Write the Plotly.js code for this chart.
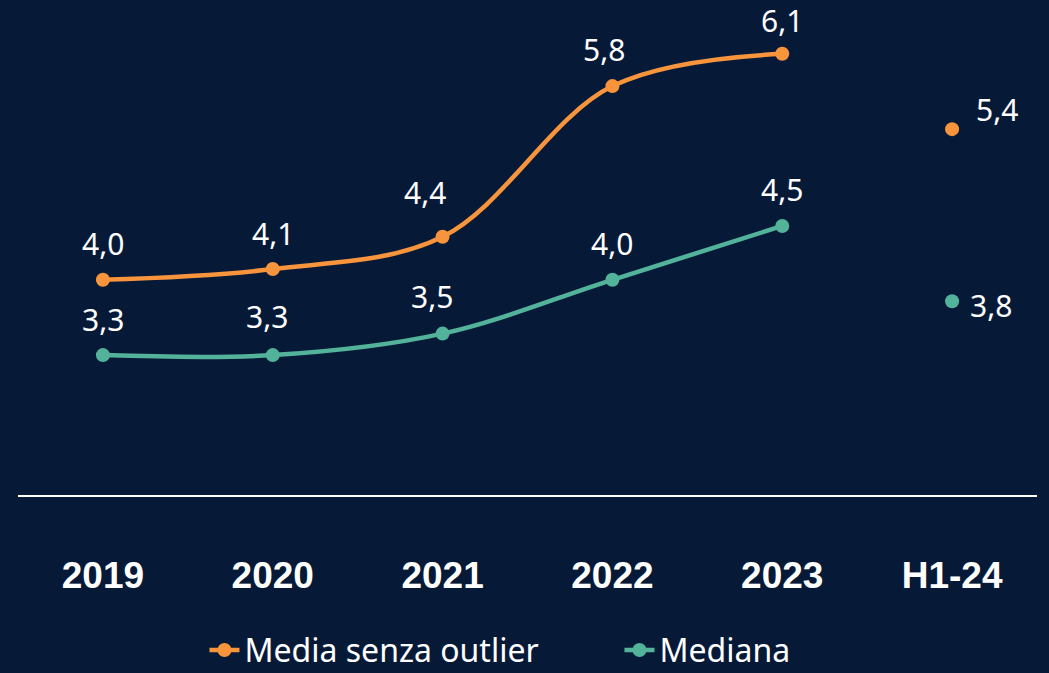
<!DOCTYPE html>
<html>
<head>
<meta charset="utf-8">
<script src="https://cdn.plot.ly/plotly-3.0.1.min.js"></script>
<style>html,body{margin:0;padding:0;background:#061a38;}</style>
</head>
<body>
<div id="chart" style="width:1049px;height:673px;"></div>
<script>
const categories = ["2019", "2020", "2021", "2022", "2023", "H1-24"];
const mediaValues = [4.0, 4.1, 4.4, 5.8, 6.1, 5.4];
const medianaValues = [3.3, 3.3, 3.5, 4.0, 4.5, 3.8];
const seriesNames = ["Media senza outlier", "Mediana"];

const orange = "#f7943c";
const teal = "#52b29a";
const fmt = v => v.toFixed(1).replace(".", ",");

const lineCats = categories.slice(0, 5);
const lastCat = categories.slice(5);

const traces = [
  {x: lineCats, y: mediaValues.slice(0, 5), name: seriesNames[0], mode: "lines+markers",
   line: {color: orange, width: 4.5, shape: "spline", smoothing: 1}, marker: {color: orange, size: 14}},
  {x: lastCat, y: mediaValues.slice(5), name: seriesNames[0], mode: "markers", showlegend: false,
   marker: {color: orange, size: 14}},
  {x: lineCats, y: medianaValues.slice(0, 5), name: seriesNames[1], mode: "lines+markers",
   line: {color: teal, width: 4.5, shape: "spline", smoothing: 1}, marker: {color: teal, size: 14}},
  {x: lastCat, y: medianaValues.slice(5), name: seriesNames[1], mode: "markers", showlegend: false,
   marker: {color: teal, size: 14}}
];

const labelFont = {family: "Noto Sans, Open Sans, sans-serif", size: 30, color: "#ffffff"};
const annotations = [];
categories.forEach((c, i) => {
  let xs = 0, ys = 36;
  if (i === 2) { xs = -18; ys = 44; }
  if (i === 3) { xs = -8; ys = 37; }
  if (i === 4) { ys = 33; }
  if (i === 5) { xs = 45; ys = 20; }
  annotations.push({x: i, y: mediaValues[i], text: fmt(mediaValues[i]), showarrow: false,
    xshift: xs, yshift: ys, font: labelFont});
});
categories.forEach((c, i) => {
  let xs = 0, ys = 36;
  if (i === 1) { xs = -6; ys = 39; }
  if (i === 2) { xs = -11; ys = 37; }
  if (i === 5) { xs = 39; ys = -4; }
  annotations.push({x: i, y: medianaValues[i], text: fmt(medianaValues[i]), showarrow: false,
    xshift: xs, yshift: ys, font: labelFont});
});

const layout = {
  width: 1049, height: 673,
  paper_bgcolor: "#061a38", plot_bgcolor: "#061a38",
  margin: {l: 18, r: 12, t: 0, b: 178, autoexpand: false},
  showlegend: true,
  legend: {orientation: "h", x: 0.183, xanchor: "left", y: -0.258, yanchor: "top",
    font: {family: "Noto Sans, Open Sans, sans-serif", size: 32, color: "#ffffff"},
    bgcolor: "rgba(0,0,0,0)", entrywidth: 370, entrywidthmode: "pixels", tracegroupgap: 0},
  xaxis: {type: "category", range: [-0.5, 5.5], showgrid: false, zeroline: false,
    showline: true, linecolor: "#ffffff", linewidth: 1.5, ticks: "",
    ticklabelstandoff: 47,
    tickfont: {family: "Liberation Sans, Arial, sans-serif", size: 37, color: "#ffffff", weight: "bold"},
    fixedrange: true},
  yaxis: {range: [2.0, 6.6], showgrid: false, zeroline: false, showline: false,
    showticklabels: false, ticks: "", fixedrange: true},
  annotations: annotations
};

Plotly.newPlot("chart", traces, layout, {displayModeBar: false, staticPlot: true});
</script>
</body>
</html>
